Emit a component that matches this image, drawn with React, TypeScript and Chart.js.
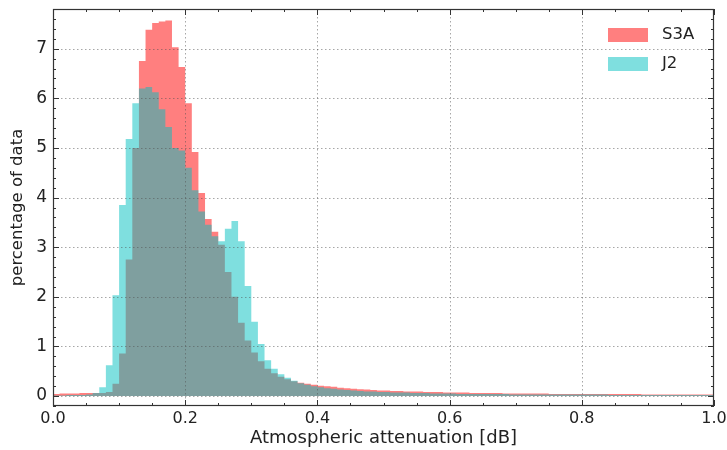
import React, { useEffect, useRef } from "react";
import { Chart, registerables } from "chart.js";

Chart.register(...registerables);

const BIN_WIDTH = 0.01;

const S3A_VALUES = [
  0.04, 0.04, 0.05, 0.05, 0.05, 0.06, 0.06, 0.06, 0.06, 0.08,
  0.25, 0.86, 2.75, 5.0, 6.75, 7.38, 7.52, 7.55, 7.57, 7.03,
  6.63, 5.9, 4.92, 4.09, 3.57, 3.31, 3.05, 2.5, 2.0, 1.48,
  1.12, 0.88, 0.7, 0.55, 0.46, 0.39, 0.34, 0.3, 0.27, 0.25,
  0.23, 0.21, 0.2, 0.19, 0.17, 0.16, 0.15, 0.14, 0.13, 0.12,
  0.11, 0.11, 0.1, 0.1, 0.09, 0.09, 0.09, 0.08, 0.08, 0.08,
  0.07, 0.07, 0.07, 0.07, 0.06, 0.06, 0.06, 0.06, 0.06, 0.05,
  0.05, 0.05, 0.05, 0.05, 0.05, 0.05, 0.04, 0.04, 0.04, 0.04,
  0.04, 0.04, 0.04, 0.04, 0.04, 0.04, 0.04, 0.04, 0.04, 0.04,
  0.03, 0.03, 0.03, 0.03, 0.03, 0.03, 0.03, 0.03, 0.03, 0.03,
];

const J2_VALUES = [
  0.01, 0.01, 0.01, 0.02, 0.02, 0.02, 0.03, 0.06, 0.18, 0.62,
  2.03, 3.85, 5.18, 5.9, 6.2, 6.23, 6.12, 5.78, 5.42, 5.0,
  4.95, 4.6, 4.15, 3.72, 3.45, 3.22, 3.12, 3.37, 3.53, 3.12,
  2.22, 1.5, 1.05, 0.72, 0.55, 0.44, 0.37, 0.31, 0.26, 0.23,
  0.2, 0.18, 0.16, 0.15, 0.13, 0.12, 0.11, 0.1, 0.09, 0.09,
  0.08, 0.08, 0.07, 0.07, 0.07, 0.06, 0.06, 0.06, 0.05, 0.05,
  0.05, 0.05, 0.04, 0.04, 0.04, 0.04, 0.04, 0.04, 0.04, 0.04,
  0.03, 0.03, 0.03, 0.03, 0.03, 0.03, 0.03, 0.03, 0.03, 0.03,
  0.03, 0.03, 0.03, 0.03, 0.03, 0.02, 0.02, 0.02, 0.02, 0.02,
  0.02, 0.02, 0.02, 0.02, 0.02, 0.02, 0.02, 0.02, 0.02, 0.02,
];

const SERIES_LABELS = ["S3A", "J2"];
const X_TICKS = [0, 0.2, 0.4, 0.6, 0.8, 1.0];
const Y_TICKS = [0, 1, 2, 3, 4, 5, 6, 7];
const X_MIN = 0;
const X_MAX = 1.0;
const Y_MIN = -0.2;
const Y_MAX = 7.8;
const X_MINOR_STEP = 0.05;
const Y_MINOR_STEP = 0.2;

const S3A_COLOR = "rgba(255, 0, 0, 0.5)";
const J2_COLOR = "rgba(0, 191, 191, 0.5)";
const TEXT_COLOR = "#222222";
const FONT = "'DejaVu Sans', sans-serif";

function toSteps(values: number[]) {
  const pts = values.map((v, i) => ({ x: X_MIN + i * BIN_WIDTH, y: v }));
  pts.push({ x: X_MIN + values.length * BIN_WIDTH, y: values[values.length - 1] });
  return pts;
}

const framePlugin = {
  id: "frameTicksGrid",
  afterDatasetsDraw(chart: any) {
    const { ctx, chartArea } = chart;
    const { left, right, top, bottom } = chartArea;
    const xs = chart.scales.x;
    const ys = chart.scales.y;
    ctx.save();
    // dotted grid
    ctx.setLineDash([1.5, 2.5]);
    ctx.strokeStyle = "rgba(80,80,80,0.5)";
    ctx.lineWidth = 1;
    X_TICKS.forEach((v) => {
      const px = Math.round(xs.getPixelForValue(v)) + 0.5;
      if (px <= left + 1 || px >= right - 1) return;
      ctx.beginPath();
      ctx.moveTo(px, top);
      ctx.lineTo(px, bottom);
      ctx.stroke();
    });
    Y_TICKS.forEach((v) => {
      const py = Math.round(ys.getPixelForValue(v)) + 0.5;
      ctx.beginPath();
      ctx.moveTo(left, py);
      ctx.lineTo(right, py);
      ctx.stroke();
    });
    ctx.setLineDash([]);
    // ticks
    ctx.strokeStyle = "#333333";
    ctx.lineWidth = 1;
    const nX = Math.round((X_MAX - X_MIN) / X_MINOR_STEP);
    for (let i = 0; i <= nX; i++) {
      const v = X_MIN + i * X_MINOR_STEP;
      const major = X_TICKS.some((t) => Math.abs(t - v) < 1e-6);
      const len = major ? 6 : 3;
      const px = Math.round(xs.getPixelForValue(v)) + 0.5;
      ctx.beginPath();
      ctx.moveTo(px, bottom);
      ctx.lineTo(px, bottom - len);
      ctx.moveTo(px, top);
      ctx.lineTo(px, top + len);
      ctx.stroke();
    }
    const nY = Math.round((Y_MAX - Y_MIN) / Y_MINOR_STEP);
    for (let i = 0; i <= nY; i++) {
      const v = Y_MIN + i * Y_MINOR_STEP;
      const major = Y_TICKS.some((t) => Math.abs(t - v) < 1e-6);
      const len = major ? 6 : 3;
      const py = Math.round(ys.getPixelForValue(v)) + 0.5;
      ctx.beginPath();
      ctx.moveTo(left, py);
      ctx.lineTo(left + len, py);
      ctx.moveTo(right, py);
      ctx.lineTo(right - len, py);
      ctx.stroke();
    }
    // frame
    ctx.strokeStyle = "#333333";
    ctx.lineWidth = 1.2;
    ctx.strokeRect(left + 0.5, top + 0.5, right - left - 1, bottom - top - 1);
    // legend
    const colors = [S3A_COLOR, J2_COLOR];
    ctx.font = `16.5px ${FONT}`;
    ctx.textBaseline = "middle";
    ctx.textAlign = "left";
    SERIES_LABELS.forEach((label, i) => {
      const cy = top + 26 + i * 29;
      ctx.fillStyle = colors[i];
      ctx.fillRect(right - 106, cy - 7, 40, 14);
      ctx.fillStyle = TEXT_COLOR;
      ctx.fillText(label, right - 52, cy);
    });
    ctx.restore();
  },
};

export default function App() {
  const canvasRef = useRef<HTMLCanvasElement | null>(null);

  useEffect(() => {
    if (!canvasRef.current) return;
    const chart = new Chart(canvasRef.current, {
      type: "line",
      data: {
        datasets: [
          {
            label: SERIES_LABELS[0],
            data: toSteps(S3A_VALUES),
            stepped: "after",
            fill: "origin",
            backgroundColor: S3A_COLOR,
            borderColor: "transparent",
            borderWidth: 0,
            pointRadius: 0,
            order: 1,
          },
          {
            label: SERIES_LABELS[1],
            data: toSteps(J2_VALUES),
            stepped: "after",
            fill: "origin",
            backgroundColor: J2_COLOR,
            borderColor: "transparent",
            borderWidth: 0,
            pointRadius: 0,
            order: 0,
          },
        ],
      },
      options: {
        responsive: false,
        animation: false,
        layout: { padding: { left: 4, right: 13, top: 9, bottom: 0 } },
        plugins: {
          legend: { display: false },
          tooltip: { enabled: false },
        },
        scales: {
          x: {
            type: "linear",
            min: X_MIN,
            max: X_MAX,
            afterBuildTicks: (s: any) => {
              s.ticks = X_TICKS.map((v) => ({ value: v }));
            },
            afterFit: (s: any) => {
              s.height = 44;
              s.paddingLeft = 0;
              s.paddingRight = 0;
            },
            grid: { display: false, drawTicks: false },
            border: { display: false },
            ticks: {
              callback: (v: any) => Number(v).toFixed(1),
              font: { family: FONT, size: 16 },
              color: TEXT_COLOR,
              padding: 3,
              maxRotation: 0,
              autoSkip: false,
            },
            title: {
              display: true,
              text: "Atmospheric attenuation [dB]",
              font: { family: FONT, size: 18 },
              color: TEXT_COLOR,
              padding: { top: 0, bottom: 1 },
            },
          },
          y: {
            type: "linear",
            min: Y_MIN,
            max: Y_MAX,
            afterBuildTicks: (s: any) => {
              s.ticks = Y_TICKS.map((v) => ({ value: v }));
            },
            afterFit: (s: any) => {
              s.width = 49;
              s.paddingTop = 0;
              s.paddingBottom = 0;
            },
            grid: { display: false, drawTicks: false },
            border: { display: false },
            ticks: {
              callback: (v: any) => String(v),
              font: { family: FONT, size: 17 },
              color: TEXT_COLOR,
              padding: 6,
              autoSkip: false,
            },
            title: {
              display: true,
              text: "percentage of data",
              font: { family: FONT, size: 16.5 },
              color: TEXT_COLOR,
              padding: { top: 4, bottom: 4 },
            },
          },
        },
      },
      plugins: [framePlugin],
    });
    return () => chart.destroy();
  }, []);

  return (
    <div style={{ position: "absolute", left: 0, top: 0, width: 727, height: 450 }}>
      <canvas ref={canvasRef} width={727} height={450} style={{ display: "block" }} />
    </div>
  );
}
